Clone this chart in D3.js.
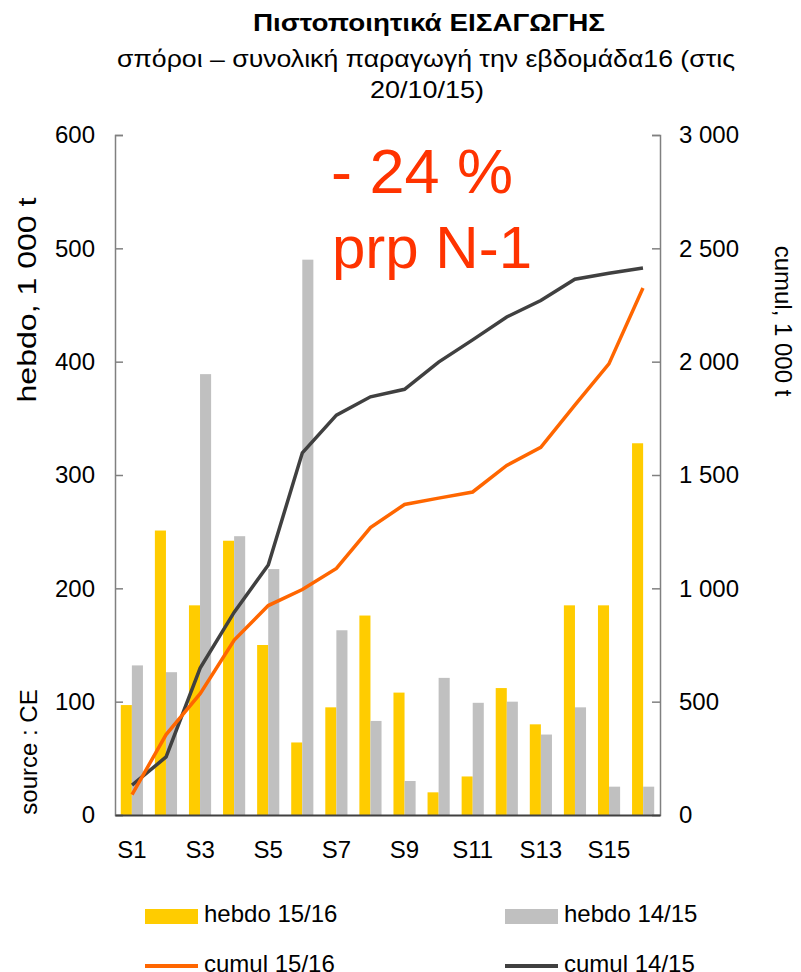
<!DOCTYPE html>
<html>
<head>
<meta charset="utf-8">
<script src="https://cdn.jsdelivr.net/npm/d3@7"></script>
<style>
  body { margin: 0; background: #fff; }
  text { font-family: "Liberation Sans", Arial, sans-serif; fill: #000; }
  .axis path, .axis line { stroke: #808080; stroke-width: 1.5; }
</style>
</head>
<body>
<div id="chart"></div>
<script>
// weeks
let weeks = ["S1","S2","S3","S4","S5","S6","S7","S8","S9","S10","S11","S12","S13","S14","S15","S16"];
// weekly values, 1 000 t
let hebdo1516 = [97, 251, 185, 242, 150, 64, 95, 176, 108, 20, 34, 112, 80, 185, 185, 328];
let hebdo1415 = [132, 126, 389, 246, 217, 490, 163, 83, 30, 121, 99, 100, 71, 95, 25, 25];
// cumulated values, 1 000 t
let cumul1516 = [90, 355, 535, 772, 924, 995, 1088, 1268, 1370, 1398, 1425, 1542, 1622, 1808, 1990, 2325];
let cumul1415 = [132, 256, 648, 895, 1103, 1598, 1764, 1845, 1878, 1998, 2096, 2197, 2270, 2364, 2390, 2413];
let leftTicks = [0, 100, 200, 300, 400, 500, 600];
let rightTicks = [0, 500, 1000, 1500, 2000, 2500, 3000];

let width = 801, height = 972;
let margin = {top: 135, right: 141, bottom: 157, left: 115};
let w = width - margin.left - margin.right,
    h = height - margin.top - margin.bottom;

let svg = d3.select("#chart").append("svg")
    .attr("width", width)
    .attr("height", height);

// titles (the original text is drawn slightly wide)
svg.append("text").attr("x", 429).attr("y", 31)
    .attr("text-anchor", "middle").style("font-size", "24px").style("font-weight", "bold")
    .attr("textLength", 352).attr("lengthAdjust", "spacingAndGlyphs")
    .text("Πιστοποιητικά ΕΙΣΑΓΩΓΗΣ");
svg.append("text").attr("x", 426).attr("y", 67)
    .attr("text-anchor", "middle").style("font-size", "24px")
    .attr("textLength", 618).attr("lengthAdjust", "spacingAndGlyphs")
    .text("σπόροι – συνολική παραγωγή την εβδομάδα16 (στις");
svg.append("text").attr("x", 427).attr("y", 98)
    .attr("text-anchor", "middle").style("font-size", "24px")
    .attr("textLength", 114).attr("lengthAdjust", "spacingAndGlyphs")
    .text("20/10/15)");

let g = svg.append("g")
    .attr("transform", "translate(" + margin.left + "," + margin.top + ")");

let x = d3.scaleBand().domain(weeks).range([0, w]).paddingInner(0.35).paddingOuter(0.17);
let xc = d3.scaleBand().domain(weeks).range([0, w]);
let xs = d3.scaleBand().domain(["a", "b"]).range([0, x.bandwidth()]);
let yL = d3.scaleLinear().domain([0, 600]).range([h, 0]);
let yR = d3.scaleLinear().domain([0, 3000]).range([h, 0]);

// bars
let grp = g.selectAll(".wk").data(weeks).enter().append("g")
    .attr("transform", d => "translate(" + x(d) + ",0)");
grp.append("rect")
    .attr("x", xs("a")).attr("width", xs.bandwidth())
    .attr("y", (d, i) => yL(hebdo1516[i]))
    .attr("height", (d, i) => h - yL(hebdo1516[i]))
    .attr("fill", "#FFCC00");
grp.append("rect")
    .attr("x", xs("b")).attr("width", xs.bandwidth())
    .attr("y", (d, i) => yL(hebdo1415[i]))
    .attr("height", (d, i) => h - yL(hebdo1415[i]))
    .attr("fill", "#C0C0C0");

// lines
let lineOf = arr => d3.line()
    .x((d, i) => xc(weeks[i]) + xc.bandwidth() / 2)
    .y(d => yR(d))(arr);
g.append("path").attr("d", lineOf(cumul1415))
    .attr("fill", "none").attr("stroke", "#404040").attr("stroke-width", 3.5);
g.append("path").attr("d", lineOf(cumul1516))
    .attr("fill", "none").attr("stroke", "#FF6600").attr("stroke-width", 3.5);

// axes
let axL = g.append("g").attr("class", "axis")
    .call(d3.axisLeft(yL).tickValues(leftTicks).tickSizeInner(-8).tickSizeOuter(-8).tickPadding(20));
axL.selectAll("text").style("font-size", "24px");
let axR = g.append("g").attr("class", "axis")
    .attr("transform", "translate(" + w + ",0)")
    .call(d3.axisRight(yR).tickValues(rightTicks).tickSizeInner(-8).tickSizeOuter(-8).tickPadding(19)
        .tickFormat(d => d3.format(",")(d).replace(",", " ")));
axR.selectAll("text").style("font-size", "24px");
let axB = g.append("g").attr("class", "axis")
    .attr("transform", "translate(0," + h + ")")
    .call(d3.axisBottom(xc).tickSize(0).tickSizeOuter(0).tickPadding(26)
        .tickFormat((d, i) => i % 2 === 0 ? d : ""));
axB.select("path").style("stroke", "#404040").style("stroke-width", 2);
axB.selectAll("text").style("font-size", "24px");

// axis titles
svg.append("text").attr("transform", "translate(36,300) rotate(-90)")
    .attr("text-anchor", "middle").style("font-size", "26px")
    .attr("textLength", 205).attr("lengthAdjust", "spacingAndGlyphs")
    .text("hebdo, 1 000 t");
svg.append("text").attr("transform", "translate(37,752) rotate(-90)")
    .attr("text-anchor", "middle").style("font-size", "24px").text("source : CE");
svg.append("text").attr("transform", "translate(775,321) rotate(90)")
    .attr("text-anchor", "middle").style("font-size", "24px").text("cumul, 1 000 t");

// annotation
svg.append("text").attr("x", 422).attr("y", 193)
    .attr("text-anchor", "middle").style("font-size", "63px").style("fill", "#FF3300")
    .text("- 24 %");
svg.append("text").attr("x", 432).attr("y", 268)
    .attr("text-anchor", "middle").style("font-size", "60px").style("fill", "#FF3300")
    .text("prp N-1");

// legend
let legend = [
  {name: "hebdo 15/16", color: "#FFCC00", type: "rect", x: 145, y: 916},
  {name: "hebdo 14/15", color: "#C0C0C0", type: "rect", x: 505, y: 916},
  {name: "cumul 15/16", color: "#FF6600", type: "line", x: 145, y: 966},
  {name: "cumul 14/15", color: "#404040", type: "line", x: 505, y: 966}
];
let lg = svg.selectAll(".lg").data(legend).enter().append("g")
    .attr("transform", d => "translate(" + d.x + "," + d.y + ")");
lg.filter(d => d.type === "rect").append("rect")
    .attr("x", 0).attr("y", -7).attr("width", 53).attr("height", 15)
    .attr("fill", d => d.color);
lg.filter(d => d.type === "line").append("line")
    .attr("x1", 0).attr("x2", 53).attr("y1", 0).attr("y2", 0)
    .attr("stroke", d => d.color).attr("stroke-width", 4);
lg.append("text").attr("x", 59).attr("y", 6)
    .style("font-size", "24px").text(d => d.name);
</script>
</body>
</html>
